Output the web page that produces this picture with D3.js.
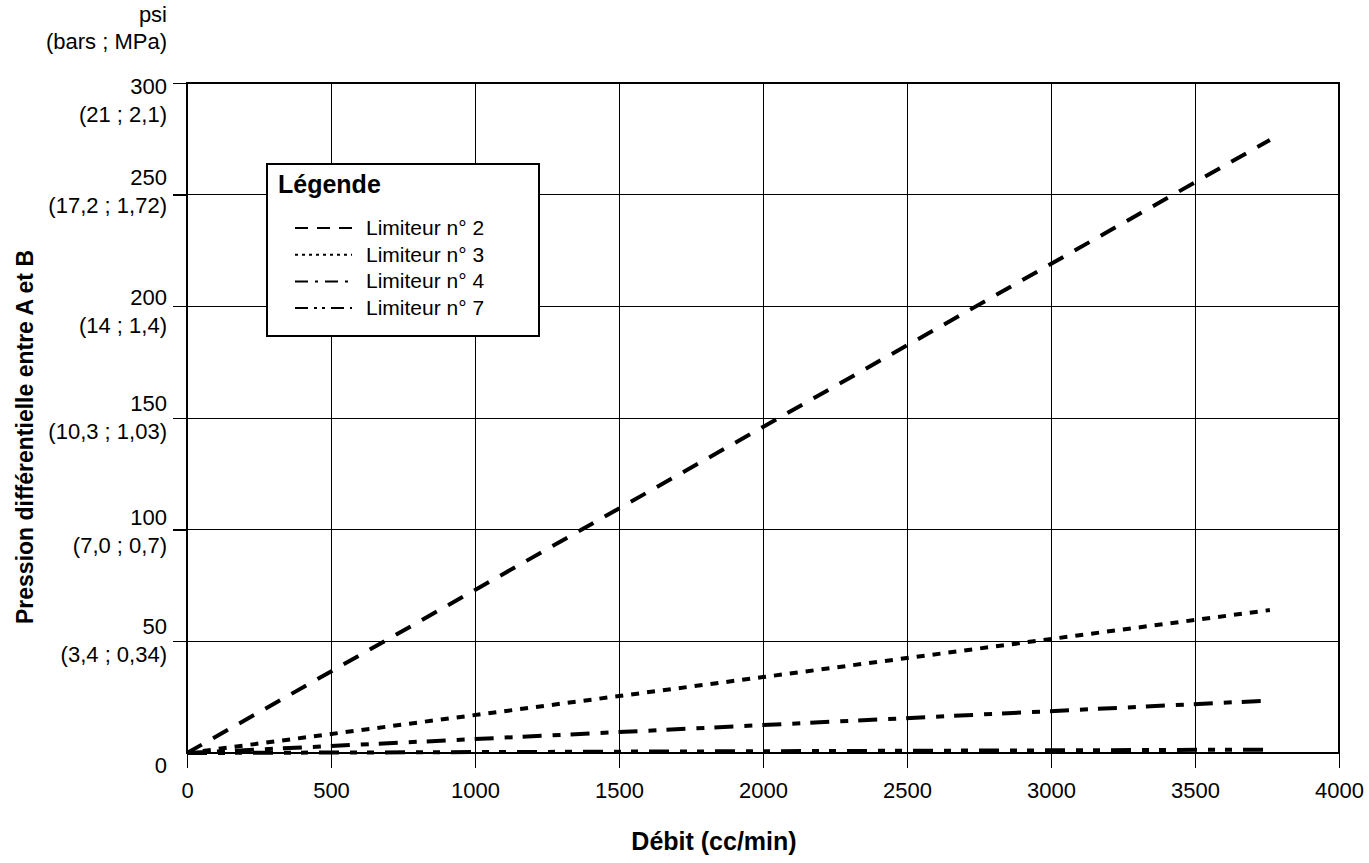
<!DOCTYPE html>
<html>
<head>
<meta charset="utf-8">
<script src="https://cdn.jsdelivr.net/npm/d3@7"></script>
<style>
    body { margin: 0; background: #fff; }
    svg { font-family: "Liberation Sans", Arial, Helvetica, sans-serif; }
</style>
</head>
<body>
<div id="vis"></div>
<script>
// data
var xTicks = [0, 500, 1000, 1500, 2000, 2500, 3000, 3500, 4000];
var yTicks = [0, 50, 100, 150, 200, 250, 300];
var yTickMetric = ['', '(3,4 ; 0,34)', '(7,0 ; 0,7)', '(10,3 ; 1,03)', '(14 ; 1,4)', '(17,2 ; 1,72)', '(21 ; 2,1)'];
var seriesNames = ['Limiteur n° 2', 'Limiteur n° 3', 'Limiteur n° 4', 'Limiteur n° 7'];
var flow = [0, 2000, 3760];
var limiteur2 = [0, 146, 274.5];
var limiteur3 = [0, 34, 64];
var limiteur4 = [0, 12.5, 23.5];
var limiteur7 = [0, 0.8, 1.5];

var width = 1369;
var height = 863;
var margin = { top: 83, right: 30, bottom: 110, left: 187 };
var drawWidth = width - margin.left - margin.right;
var drawHeight = height - margin.top - margin.bottom;

// layout tweaks for the stacked y labels (the original is hand placed)
var labelNudge = { 300: 18, 250: -3, 200: 6, 100: 2 };

var svg = d3.select('#vis')
            .append('svg')
            .attr('width', width)
            .attr('height', height);

var g = svg.append('g')
            .attr('transform', 'translate(' + margin.left + ', ' + margin.top + ')');

var xScale = d3.scaleLinear()
                .domain([0, 4000])
                .range([0, drawWidth]);
var yScale = d3.scaleLinear()
                .domain([0, 300])
                .range([drawHeight, 0]);

// grid
g.selectAll('.vgrid').data(xTicks.slice(1, -1)).enter().append('line')
    .attr('x1', function(d) { return xScale(d); })
    .attr('x2', function(d) { return xScale(d); })
    .attr('y1', 0)
    .attr('y2', drawHeight + 15)
    .attr('stroke', '#000')
    .attr('stroke-width', 1)
    .attr('shape-rendering', 'crispEdges');
g.selectAll('.hgrid').data(yTicks.slice(1, -1)).enter().append('line')
    .attr('x1', -14)
    .attr('x2', drawWidth)
    .attr('y1', function(d) { return yScale(d); })
    .attr('y2', function(d) { return yScale(d); })
    .attr('stroke', '#000')
    .attr('stroke-width', 1)
    .attr('shape-rendering', 'crispEdges');

// x axis
var xAxis = d3.axisBottom().scale(xScale)
                .tickValues(xTicks)
                .tickSize(15)
                .tickPadding(14)
                .tickFormat(d3.format('d'));
var xAxisG = g.append('g')
                .attr('transform', 'translate(0, ' + drawHeight + ')')
                .call(xAxis);
xAxisG.select('.domain').remove();
xAxisG.selectAll('line').attr('stroke', '#000').attr('shape-rendering', 'crispEdges');
xAxisG.selectAll('text')
    .attr('font-size', 22)
    .attr('font-family', '"Liberation Sans", Arial, sans-serif')
    .attr('fill', '#000');

// y axis: tick marks from the axis, stacked labels drawn beside them
var yAxis = d3.axisLeft().scale(yScale)
                .tickValues(yTicks.slice(1))
                .tickSize(14)
                .tickFormat('');
var yAxisG = g.append('g').call(yAxis);
yAxisG.select('.domain').remove();
yAxisG.selectAll('line').attr('stroke', '#000').attr('shape-rendering', 'crispEdges');

var yLab = g.selectAll('.ylab').data(yTicks).enter().append('g')
            .attr('transform', function(d) { return 'translate(-20, ' + yScale(d) + ')'; })
            .attr('font-size', 22)
            .attr('text-anchor', 'end');
yLab.append('text')
    .attr('y', function(d) { return d === 0 ? 20 : -7 + (labelNudge[d] || 0); })
    .text(function(d) { return d; });
yLab.append('text')
    .attr('y', function(d) { return 21 + (labelNudge[d] || 0); })
    .text(function(d, i) { return yTickMetric[i]; });

svg.append('text')
    .attr('x', 167).attr('y', 22)
    .attr('text-anchor', 'end').attr('font-size', 22)
    .text('psi');
svg.append('text')
    .attr('x', 167).attr('y', 49)
    .attr('text-anchor', 'end').attr('font-size', 22)
    .text('(bars ; MPa)');

// frame
g.append('rect')
    .attr('width', drawWidth)
    .attr('height', drawHeight)
    .attr('fill', 'none')
    .attr('stroke', '#000')
    .attr('stroke-width', 2);

// series
var series = [limiteur2, limiteur3, limiteur4, limiteur7];
var dashes = ['17,13', '8,8', '19,11,8,10', '20,11,7,10,7,11'];
var legendDashes = ['13,9', '3,4', '13,7,3,7', '13,6,3,5,3,6'];

var line = d3.line()
            .x(function(d) { return xScale(d[0]); })
            .y(function(d) { return yScale(d[1]); });

series.forEach(function(vals, i) {
    g.append('path')
        .datum(flow.map(function(f, j) { return [f, vals[j]]; }))
        .attr('d', line)
        .attr('fill', 'none')
        .attr('stroke', '#000')
        .attr('stroke-width', 4)
        .attr('stroke-dasharray', dashes[i]);
});

// legend
var legend = svg.append('g').attr('transform', 'translate(267, 164)');
legend.append('rect')
    .attr('width', 272).attr('height', 172)
    .attr('fill', '#fff').attr('stroke', '#000').attr('stroke-width', 2);
legend.append('text')
    .attr('x', 11).attr('y', 29)
    .attr('font-size', 25).attr('font-weight', 'bold')
    .text('Légende');
var rows = legend.selectAll('.row').data(seriesNames).enter().append('g')
            .attr('transform', function(d, i) { return 'translate(0, ' + (64 + i * 26.7) + ')'; });
rows.append('line')
    .attr('x1', 28).attr('x2', 85)
    .attr('stroke', '#000').attr('stroke-width', 2)
    .attr('stroke-dasharray', function(d, i) { return legendDashes[i]; });
rows.append('text')
    .attr('x', 99).attr('y', 7)
    .attr('font-size', 21)
    .text(function(d) { return d; });

// axis titles
svg.append('text')
    .attr('x', 714).attr('y', 850)
    .attr('text-anchor', 'middle')
    .attr('font-size', 25).attr('font-weight', 'bold')
    .text('Débit (cc/min)');
svg.append('text')
    .attr('transform', 'translate(33, 437) rotate(-90)')
    .attr('text-anchor', 'middle')
    .attr('font-size', 23).attr('font-weight', 'bold')
    .text('Pression différentielle entre A et B');
</script>
</body>
</html>
